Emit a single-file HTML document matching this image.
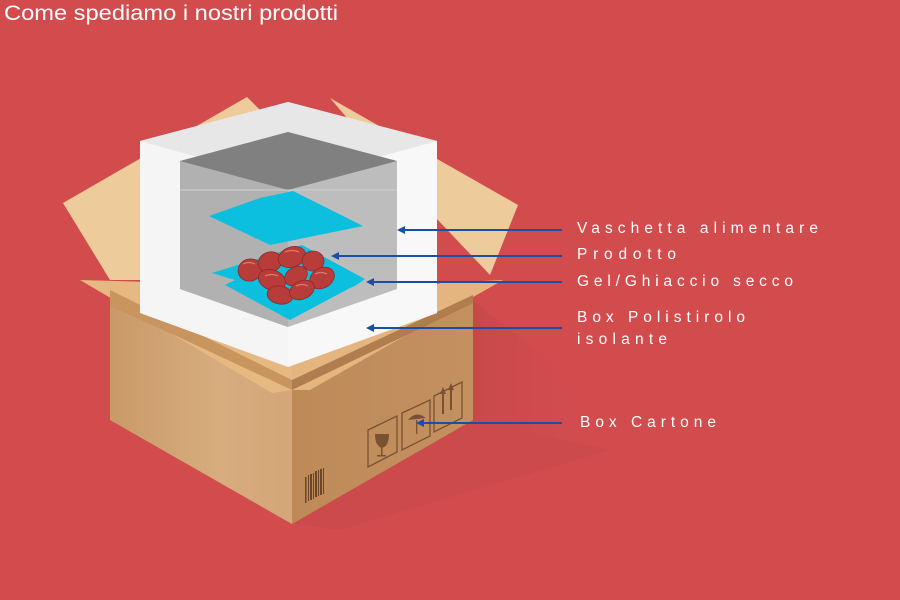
<!DOCTYPE html>
<html><head><meta charset="utf-8"><style>
html,body{margin:0;padding:0;background:#d24c4e;}
svg{display:block}
text{font-family:"Liberation Sans",sans-serif;fill:#fff}
</style></head><body>
<svg width="900" height="600" viewBox="0 0 900 600" xmlns="http://www.w3.org/2000/svg">
<defs>
<linearGradient id="lf" x1="0" x2="1" y1="0" y2="0"><stop offset="0" stop-color="#c99a66"/><stop offset="0.6" stop-color="#d7ac7e"/><stop offset="1" stop-color="#d4a679"/></linearGradient>
<linearGradient id="rf" x1="0" x2="1"><stop offset="0" stop-color="#bd8a58"/><stop offset="1" stop-color="#c49060"/></linearGradient>
<linearGradient id="sh" x1="0" x2="1" y1="0" y2="0"><stop offset="0" stop-color="#a83c3e" stop-opacity="0.8"/><stop offset="1" stop-color="#d24c4e" stop-opacity="0"/></linearGradient>
</defs>
<rect width="900" height="600" fill="#d24c4e"/>
<text x="4" y="20" font-size="21" textLength="334" lengthAdjust="spacingAndGlyphs">Come spediamo i nostri prodotti</text>
<!-- shadow -->
<polygon points="473,300 560,370 610,450 473,420" fill="url(#sh)" opacity="0.3"/>
<polygon points="473,420 610,450 340,530 292,524" fill="#b84446" opacity="0.2"/>
<!-- back flaps -->
<polygon points="63,203 247,97 300,150 140,280 110,280" fill="#eecb9b"/>
<polygon points="330,98 518,205 490,275 400,180" fill="#eecb9b"/>
<!-- box faces -->
<polygon points="110,305 292,390 292,524 110,420" fill="url(#lf)"/>
<polygon points="292,390 473,303 473,420 292,524" fill="url(#rf)"/>
<!-- interior / flaps under styro -->
<polygon points="110,300 292,215 473,300 292,390" fill="#b88455"/>
<polygon points="80,280 150,282 292,360 310,390 292,390 272,393" fill="#e6b983"/>
<polygon points="110,290 292,380 292,390 110,305" fill="#c9955f"/>
<polygon points="292,390 310,390 503,280 440,283 292,362" fill="#e4b57f"/>
<polygon points="292,380 473,295 473,303 292,390" fill="#b07d4e"/>
<!-- styrofoam -->
<polygon points="140,141 288,102 437,141 437,313 288,367 140,313" fill="#f5f5f5"/>
<polygon points="288,182 437,141 437,313 288,367" fill="#f8f8f8"/>
<polygon points="140,141 288,102 437,141 288,182" fill="#e7e7e7"/>
<!-- inner box -->
<polygon points="180,161 288,132 397,161 397,289 288,327 180,289" fill="#bdbdbd"/>
<polygon points="180,161 288,190 288,327 180,289" fill="#b1b1b1"/>
<polygon points="180,161 288,132 397,161 288,190" fill="#808080"/>
<line x1="180" y1="190" x2="397" y2="190" stroke="#d0d0d0" stroke-width="1"/>
<!-- cyan sheets -->
<polygon points="209,216 260,198 293,191 363,226 270,245" fill="#0cbfdf"/>
<polygon points="212,273 302,245 365,279 355,286 350,288 290,320 225,285 235,280" fill="#0cbfdf"/>
<!-- sausages -->
<g fill="#b83c3a" stroke="#8a2a28" stroke-width="0.8">
<ellipse cx="250" cy="270" rx="12" ry="11" transform="rotate(-20 250 270)"/>
<ellipse cx="270" cy="262" rx="12" ry="10" transform="rotate(-20 270 262)"/>
<ellipse cx="292" cy="257" rx="14" ry="10" transform="rotate(-20 292 257)"/>
<ellipse cx="313" cy="261" rx="11" ry="10"/>
<ellipse cx="272" cy="280" rx="14" ry="10" transform="rotate(20 272 280)"/>
<ellipse cx="296" cy="276" rx="12" ry="9" transform="rotate(-30 296 276)"/>
<ellipse cx="322" cy="278" rx="13" ry="10" transform="rotate(-30 322 278)"/>
<ellipse cx="280" cy="295" rx="13" ry="9" transform="rotate(10 280 295)"/>
<ellipse cx="302" cy="290" rx="13" ry="9" transform="rotate(-25 302 290)"/>
</g>
<g fill="none" stroke="#e07a6a" stroke-width="1.2">
<path d="M243 264 q6-3 12 0"/><path d="M285 252 q7-3 14 0"/><path d="M265 276 q7-3 13 0"/><path d="M315 274 q6-3 12 0"/><path d="M296 286 q6-3 12 0"/>
</g>
<!-- icons -->
<g fill="none" stroke="#7a5232" stroke-width="1.3">
<polygon points="368,430 397,416 397,452 368,467"/>
<polygon points="402,413 430,400 430,436 402,450"/>
<polygon points="434,396 462,382 462,418 434,432"/>
</g>
<g fill="#7a5232">
<path d="M375 434 h14 q0 12-7 14 q-7-2-7-14z"/><rect x="381" y="447" width="1.5" height="9"/><rect x="377" y="455" width="9" height="1.5"/>
<path d="M408 420 q8-10 18-2 z"/><rect x="416" y="420" width="1.3" height="14"/>
<rect x="442" y="392" width="2" height="22"/><rect x="450" y="388" width="2" height="22"/>
<polygon points="440,394 443,387 446,394"/><polygon points="448,390 451,383 454,390"/>
</g>
<g fill="#6b4628">
<rect x="305" y="477" width="1.5" height="26"/><rect x="308" y="475" width="1" height="26"/><rect x="310" y="474" width="2" height="26"/><rect x="313" y="473" width="1" height="26"/><rect x="315" y="471" width="2" height="26"/><rect x="318" y="470" width="1" height="26"/><rect x="320" y="469" width="2" height="26"/><rect x="323" y="468" width="1" height="26"/>
</g>
<!-- arrows -->
<g stroke="#1a4fa8" stroke-width="2" fill="#1a4fa8">
<line x1="562" y1="230" x2="402" y2="230"/><polygon points="397,230 405,226 405,234" stroke="none"/>
<line x1="562" y1="256" x2="336" y2="256"/><polygon points="331,256 339,252 339,260" stroke="none"/>
<line x1="562" y1="282" x2="371" y2="282"/><polygon points="366,282 374,278 374,286" stroke="none"/>
<line x1="562" y1="328" x2="371" y2="328"/><polygon points="366,328 374,324 374,332" stroke="none"/>
<line x1="562" y1="423" x2="421" y2="423"/><polygon points="416,423 424,419 424,427" stroke="none"/>
</g>
<g font-size="15.5">
<text x="577" y="233" textLength="241">Vaschetta alimentare</text>
<text x="577" y="259" textLength="99">Prodotto</text>
<text x="577" y="286" textLength="216">Gel/Ghiaccio secco</text>
<text x="577" y="322" textLength="168">Box Polistirolo</text>
<text x="577" y="344" textLength="90">isolante</text>
<text x="580" y="427" textLength="136">Box Cartone</text>
</g>
</svg>
</body></html>
